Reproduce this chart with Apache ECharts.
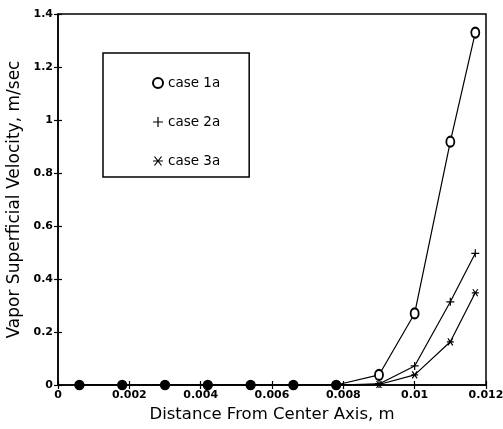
<!DOCTYPE html>
<html>
<head>
<meta charset="utf-8">
<script src="https://cdn.jsdelivr.net/npm/echarts@6/dist/echarts.min.js"></script>
<style>
  html, body { margin: 0; padding: 0; background: #fff; }
  #chart { width: 503px; height: 429px; }
</style>
</head>
<body>
<div id="chart"></div>
<script>
// Radial positions (m) where the vapor velocity was evaluated
const distance = [0.0006, 0.0018, 0.0030, 0.0042, 0.0054, 0.0066, 0.0078, 0.0090, 0.0100, 0.0110, 0.0117];

// Vapor superficial velocity (m/sec) for each case
const case1a = [0, 0, 0, 0, 0, 0, 0, 0.038, 0.27, 0.918, 1.33];
const case2a = [0, 0, 0, 0, 0, 0, 0, 0.004, 0.072, 0.314, 0.497];
const case3a = [0, 0, 0, 0, 0, 0, 0, 0.002, 0.038, 0.163, 0.348];

const seriesNames = ['case 1a', 'case 2a', 'case 3a'];

const xTicks = [0, 0.002, 0.004, 0.006, 0.008, 0.01, 0.012];
const yTicks = [0, 0.2, 0.4, 0.6, 0.8, 1, 1.2, 1.4];

const FONT = 'DejaVu Sans';
const plusPath = 'path://M0,5L10,5M5,0L5,10';
const starPath = 'path://M0,5L10,5M1.5,0.5L8.5,9.5M8.5,0.5L1.5,9.5';

function pairs(ys) {
  return distance.map((x, i) => [x, ys[i]]);
}

// Near-zero points in the core region are drawn as solid dots where the three markers overlap
const case1Data = pairs(case1a).map(p => p[0] < 0.0085
  ? { value: p, symbol: 'circle', symbolSize: 9, itemStyle: { color: '#000', borderColor: '#000' } }
  : p);

const chart = echarts.init(document.getElementById('chart'), null, { renderer: 'canvas' });

const axisLabelStyle = { color: '#000', fontFamily: FONT, fontSize: 11, fontWeight: 'bold' };

chart.setOption({
  animation: false,
  backgroundColor: '#fff',
  grid: {
    left: 58, right: 17, top: 14, bottom: 44,
    containLabel: false, outerBoundsMode: 'none',
    show: true, borderColor: '#000', borderWidth: 1.5, backgroundColor: 'transparent'
  },
  legend: {
    orient: 'vertical',
    left: 103, top: 53,
    padding: [23, 29, 9, 49],
    itemGap: 25,
    itemWidth: 10, itemHeight: 14,
    borderColor: '#000', borderWidth: 1.5,
    textStyle: { color: '#000', fontFamily: FONT, fontSize: 13.5 },
    data: [
      { name: 'case 1a', icon: 'emptyCircle', itemStyle: { color: '#000', borderColor: '#000', borderWidth: 1.2 } },
      { name: 'case 2a', icon: plusPath, itemStyle: { color: '#000', borderColor: '#000', borderWidth: 1.2 } },
      { name: 'case 3a', icon: starPath, itemStyle: { color: '#000', borderColor: '#000', borderWidth: 1.2 } }
    ]
  },
  xAxis: [
    {
      type: 'value', min: xTicks[0], max: xTicks[xTicks.length - 1], interval: 0.002,
      position: 'bottom',
      name: 'Distance From Center Axis, m', nameLocation: 'middle', nameGap: 21,
      nameTextStyle: { color: '#000', fontFamily: FONT, fontSize: 16.5 },
      axisLine: { show: true, lineStyle: { color: '#000', width: 1.5 } },
      axisTick: { show: true, inside: false, length: 4, lineStyle: { color: '#000', width: 1.2 } },
      axisLabel: Object.assign({ margin: 5, formatter: v => String(parseFloat(v.toFixed(4))) }, axisLabelStyle),
      splitLine: { show: false }
    },
    {
      type: 'value', min: xTicks[0], max: xTicks[xTicks.length - 1], interval: 0.002,
      position: 'bottom', gridIndex: 0,
      axisLine: { show: false },
      axisTick: { show: true, inside: true, length: 4, lineStyle: { color: '#000', width: 1.2 } },
      axisLabel: { show: false },
      splitLine: { show: false }
    }
  ],
  yAxis: [
    {
      type: 'value', min: yTicks[0], max: yTicks[yTicks.length - 1], interval: 0.2,
      position: 'left',
      name: 'Vapor Superficial Velocity, m/sec', nameLocation: 'middle', nameGap: 33,
      nameTextStyle: { color: '#000', fontFamily: FONT, fontSize: 17 },
      axisLine: { show: true, lineStyle: { color: '#000', width: 1.5 } },
      axisTick: { show: true, inside: false, length: 4, lineStyle: { color: '#000', width: 1.2 } },
      axisLabel: Object.assign({ margin: 5, formatter: v => String(parseFloat(v.toFixed(2))) }, axisLabelStyle),
      splitLine: { show: false }
    },
    {
      type: 'value', min: yTicks[0], max: yTicks[yTicks.length - 1], interval: 0.2,
      position: 'left',
      axisLine: { show: false },
      axisTick: { show: true, inside: true, length: 4, lineStyle: { color: '#000', width: 1.2 } },
      axisLabel: { show: false },
      splitLine: { show: false }
    }
  ],
  series: [
    {
      name: seriesNames[0], type: 'line', data: case1Data,
      symbol: 'emptyCircle', symbolSize: [8, 10],
      lineStyle: { color: '#000', width: 1.2 },
      itemStyle: { color: '#000', borderColor: '#000', borderWidth: 1.3 },
      z: 3
    },
    {
      name: seriesNames[1], type: 'line', data: pairs(case2a),
      symbol: plusPath, symbolSize: 8,
      lineStyle: { color: '#000', width: 1.2 },
      itemStyle: { color: '#000', borderColor: '#000', borderWidth: 1.2 },
      z: 2
    },
    {
      name: seriesNames[2], type: 'line', data: pairs(case3a),
      symbol: starPath, symbolSize: 7,
      lineStyle: { color: '#000', width: 1.2 },
      itemStyle: { color: '#000', borderColor: '#000', borderWidth: 1.2 },
      z: 2
    }
  ]
});
</script>
</body>
</html>
